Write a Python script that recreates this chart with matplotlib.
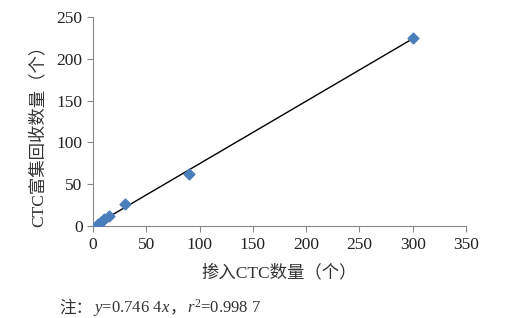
import numpy as np
import matplotlib.pyplot as plt

plt.rcParams['font.family'] = ['Liberation Serif', 'Noto Sans CJK SC']
plt.rcParams['mathtext.fontset'] = 'custom'
plt.rcParams['mathtext.rm'] = 'Liberation Serif'
plt.rcParams['mathtext.it'] = 'Liberation Serif:italic'

# 掺入CTC数量 / CTC富集回收数量
x_vals = [5, 7, 10, 15, 30, 90, 300]
y_vals = [2, 5, 8, 12, 26, 62, 225]
slope = 0.7464

fig = plt.figure(figsize=(5.06, 3.18), dpi=100)
ax = fig.add_axes([0.184, 0.289, 0.737, 0.658])

fit_x = np.array([min(x_vals), max(x_vals)])
ax.plot(fit_x, slope * fit_x, color='black', lw=1.0, zorder=2)
ax.scatter(x_vals, y_vals, marker='D', s=30, color='#4a7ebb', zorder=3)

ax.set_xlim(0, 350)
ax.set_ylim(0, 250)
ax.set_xticks(range(0, 351, 50))
ax.set_yticks(range(0, 251, 50))

for s in ['top', 'right']:
    ax.spines[s].set_visible(False)
for s in ['left', 'bottom']:
    ax.spines[s].set_color('#888888')
    ax.spines[s].set_linewidth(0.8)
ax.tick_params(colors='#888888', labelcolor='#222222', labelsize=12.5,
               direction='out', length=4)

ax.set_xlabel('掺入CTC数量（个）', fontsize=12.5, color='#333333', labelpad=9)
ax.set_ylabel('CTC富集回收数量（个）', fontsize=12.5, color='#333333')
ax.yaxis.set_label_coords(-0.125, 0.45)

# note line: pieces placed one after another on the same baseline
pieces = ['注：', '$y$=0.746 4$x$', '，', '$r^2$=0.998 7']
r = fig.canvas.get_renderer()
W = fig.bbox.width
xpx = 0.118 * W
for txt in pieces:
    t = fig.text(xpx / W, 0.018, txt, fontsize=12, color='#333333',
                 va='baseline')
    xpx = t.get_window_extent(r).x1

fig.savefig('out.png', dpi=100)
